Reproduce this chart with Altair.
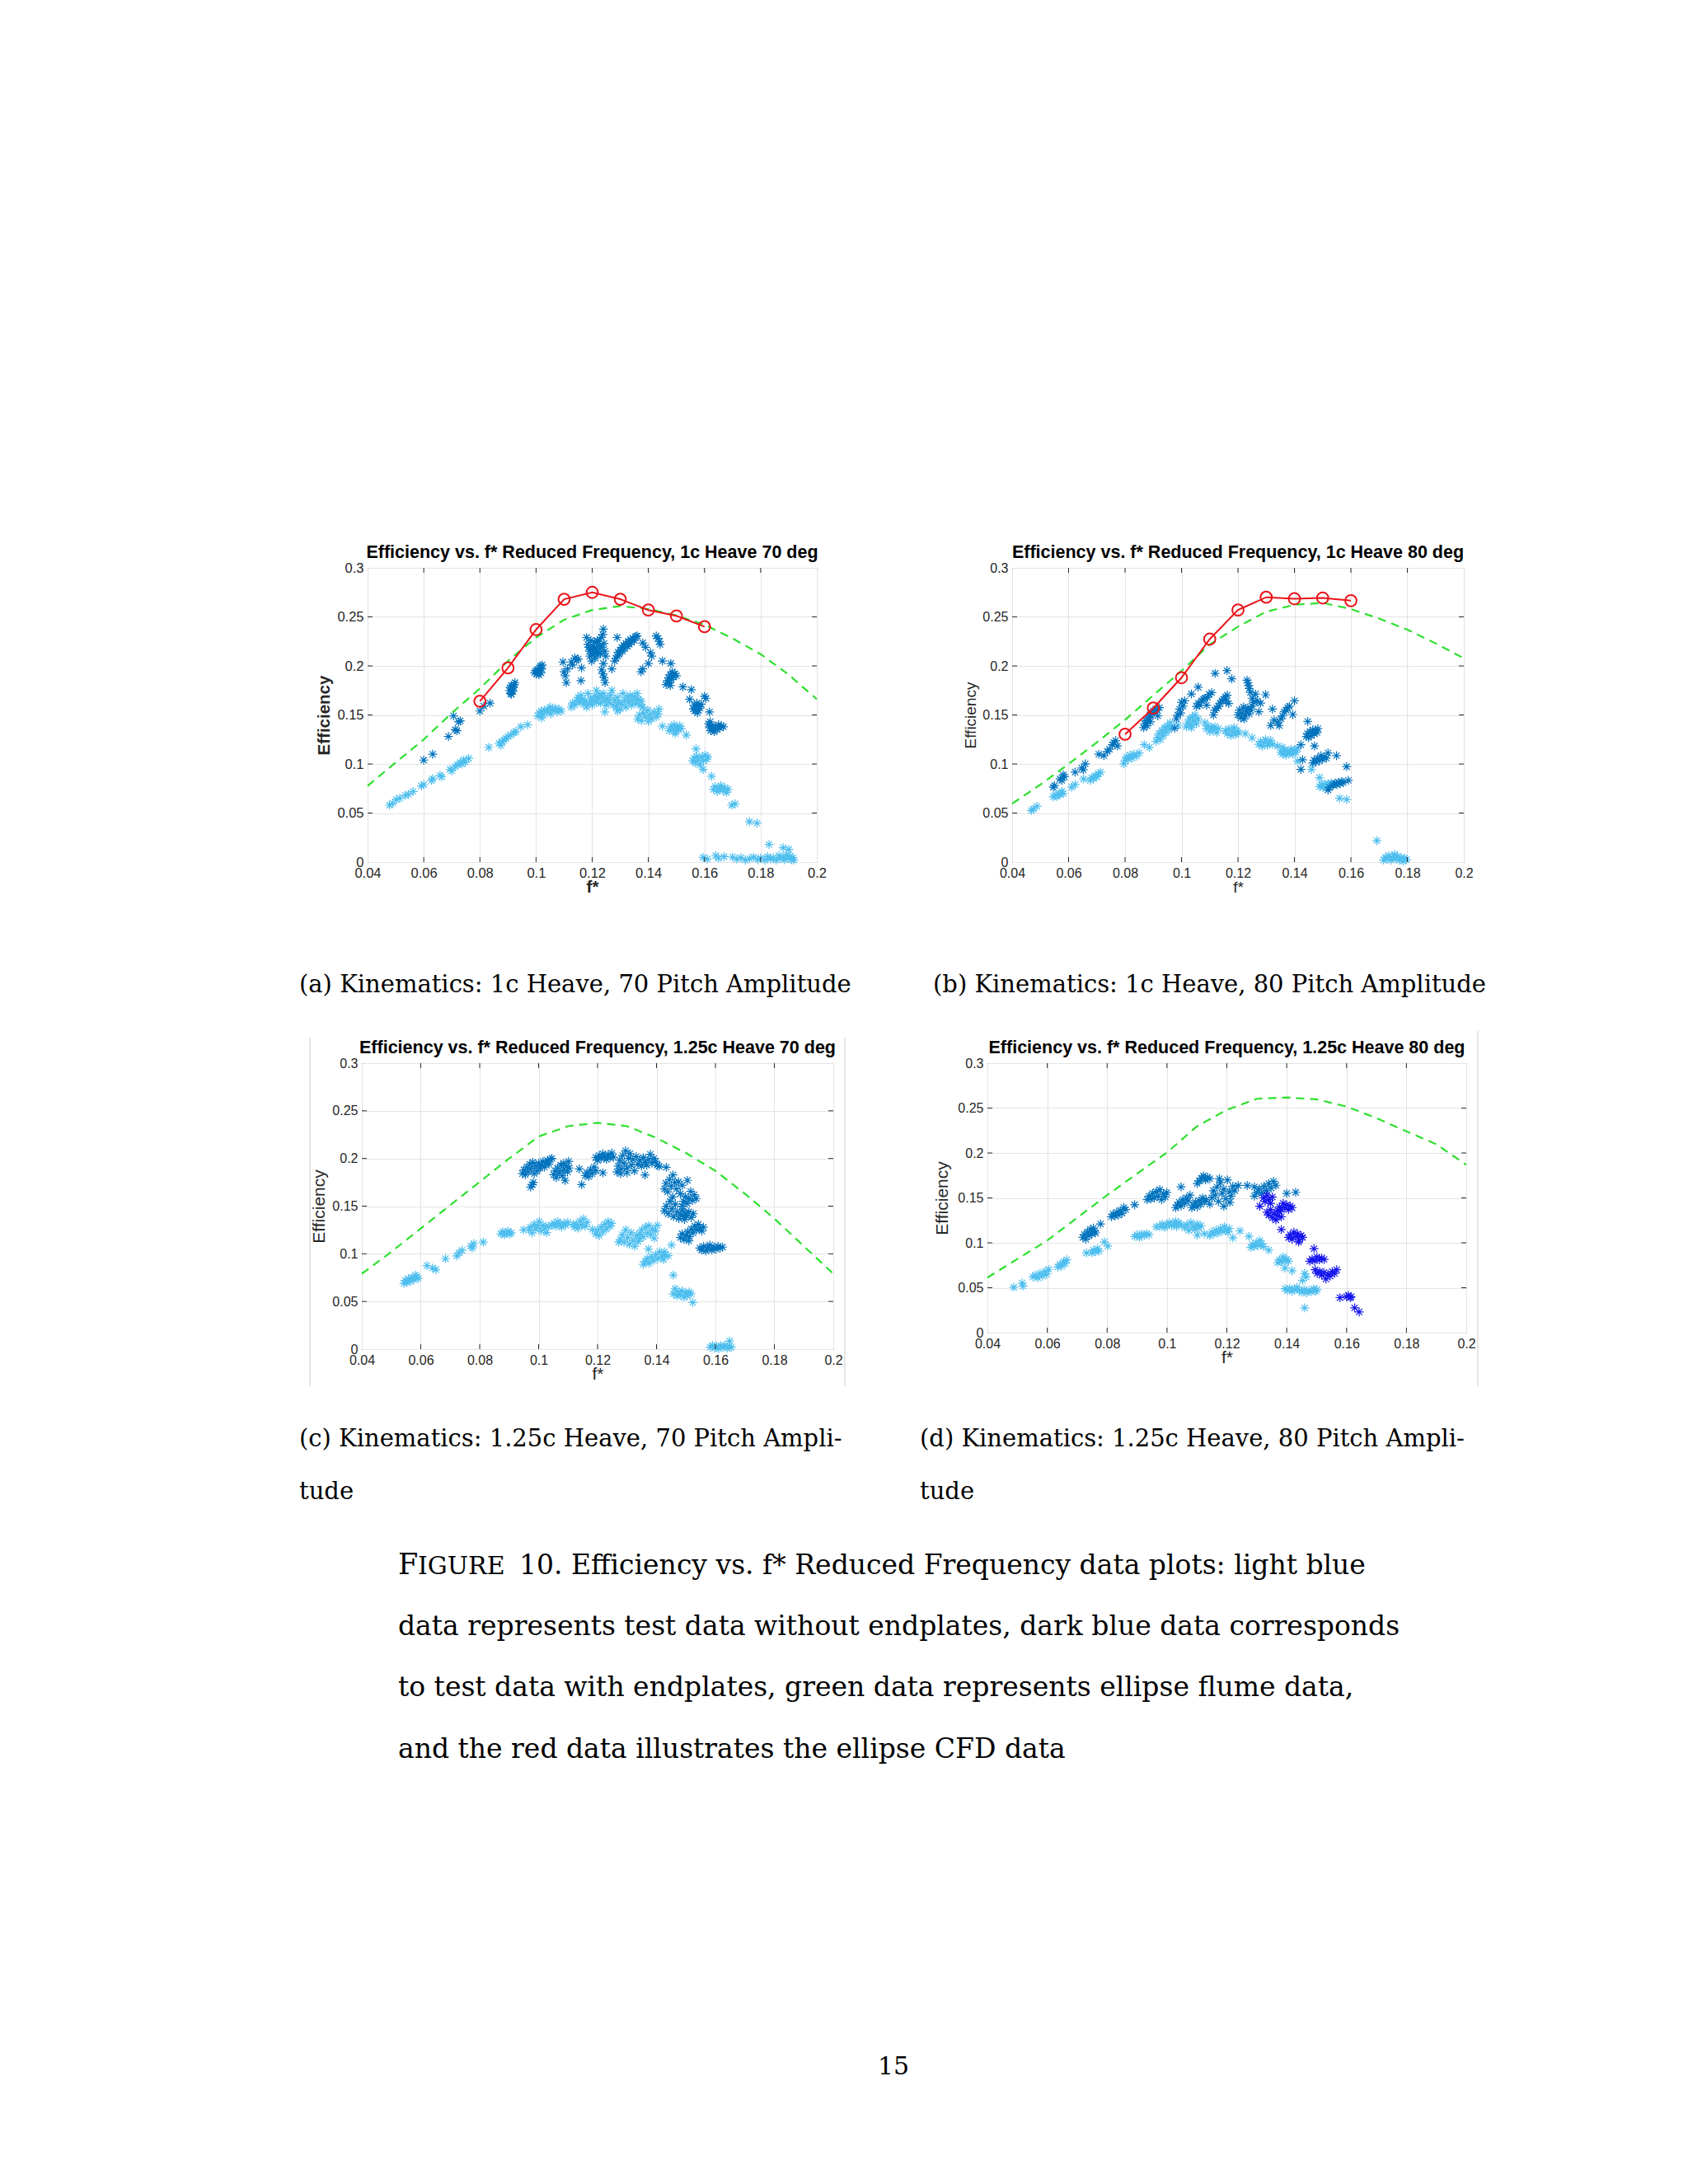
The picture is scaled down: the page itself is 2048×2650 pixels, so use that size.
import altair as alt
import pandas as pd

# ---------------- data ----------------
XT = [0.04, 0.06, 0.08, 0.10, 0.12, 0.14, 0.16, 0.18, 0.20]
YT = [0.0, 0.05, 0.10, 0.15, 0.20, 0.25, 0.30]
GREEN_F = [0.04, 0.05, 0.06, 0.07, 0.08, 0.09, 0.10, 0.11, 0.12, 0.13, 0.14, 0.15, 0.16, 0.17, 0.18, 0.19, 0.20]
RED_F = [0.08, 0.09, 0.10, 0.11, 0.12, 0.13, 0.14, 0.15, 0.16]

A_GREEN = [0.0777, 0.1015, 0.125, 0.152, 0.177, 0.205, 0.229, 0.247, 0.257, 0.261, 0.258, 0.2515, 0.242, 0.228, 0.212, 0.191, 0.166]
B_GREEN = [0.0596, 0.079, 0.100, 0.122, 0.145, 0.170, 0.195, 0.2218, 0.240, 0.2553, 0.2623, 0.2643, 0.258, 0.2483, 0.237, 0.223, 0.2078]
C_GREEN = [0.0791, 0.102, 0.1266, 0.151, 0.1755, 0.200, 0.223, 0.2339, 0.2374, 0.2339, 0.2215, 0.2057, 0.187, 0.163, 0.137, 0.108, 0.0791]
D_GREEN = [0.0612, 0.082, 0.1026, 0.128, 0.1531, 0.177, 0.2006, 0.2297, 0.248, 0.2603, 0.2618, 0.2597, 0.2517, 0.2388, 0.2241, 0.2097, 0.1868]

A_RED = [0.164, 0.198, 0.237, 0.268, 0.275, 0.268, 0.257, 0.251, 0.240]
B_RED = [0.1303, 0.157, 0.188, 0.2273, 0.257, 0.270, 0.2685, 0.2693, 0.2665]

A_DARK = [
    (0.0600, 0.104), (0.0632, 0.110), (0.0688, 0.128), (0.0706, 0.149), (0.0712, 0.135), (0.0718, 0.134),
    (0.0724, 0.143), (0.0730, 0.144), (0.0800, 0.154), (0.0814, 0.159), (0.0836, 0.162),
    (0.0905, 0.175), (0.0908, 0.178), (0.0910, 0.172), (0.0912, 0.180), (0.0915, 0.176), (0.0918, 0.174),
    (0.0920, 0.178), (0.0922, 0.181), (0.0925, 0.183), (0.0912, 0.171), (0.0917, 0.179),
    (0.0995, 0.193), (0.0998, 0.195), (0.1002, 0.192), (0.1005, 0.196), (0.1008, 0.194), (0.1012, 0.198),
    (0.1016, 0.200), (0.1020, 0.197), (0.1018, 0.193), (0.1010, 0.191), (0.1022, 0.201),
    (0.1096, 0.204), (0.1100, 0.194), (0.1104, 0.190), (0.1108, 0.183), (0.1112, 0.197), (0.1126, 0.204),
    (0.1130, 0.201), (0.1138, 0.208), (0.1145, 0.206), (0.1150, 0.207), (0.1162, 0.198), (0.1160, 0.185),
    (0.1180, 0.229), (0.1185, 0.222), (0.1190, 0.215), (0.1192, 0.210), (0.1195, 0.218), (0.1198, 0.205),
    (0.1200, 0.212), (0.1203, 0.220), (0.1205, 0.216), (0.1208, 0.224), (0.1210, 0.208), (0.1212, 0.214),
    (0.1215, 0.219), (0.1218, 0.226), (0.1220, 0.211), (0.1222, 0.225), (0.1225, 0.217), (0.1228, 0.221),
    (0.1230, 0.213), (0.1232, 0.229), (0.1235, 0.219), (0.1238, 0.232), (0.1240, 0.2375), (0.1242, 0.223),
    (0.1245, 0.215), (0.1248, 0.210), (0.1240, 0.2025), (0.1234, 0.196), (0.1238, 0.192), (0.1242, 0.188),
    (0.1246, 0.183), (0.1195, 0.226), (0.1188, 0.219), (0.1270, 0.197),
    (0.1280, 0.205), (0.1285, 0.208), (0.1290, 0.210), (0.1292, 0.214), (0.1296, 0.212), (0.1300, 0.216),
    (0.1305, 0.219), (0.1308, 0.215), (0.1312, 0.221), (0.1316, 0.218), (0.1320, 0.223), (0.1325, 0.220),
    (0.1328, 0.225), (0.1332, 0.222), (0.1336, 0.227), (0.1340, 0.224), (0.1345, 0.228), (0.1350, 0.226),
    (0.1355, 0.230), (0.1289, 0.229),
    (0.1360, 0.2305), (0.1380, 0.2235), (0.1390, 0.219), (0.1408, 0.2135), (0.1412, 0.210), (0.1400, 0.2025),
    (0.1374, 0.194), (0.1380, 0.197), (0.1428, 0.2305), (0.1435, 0.228), (0.1439, 0.225), (0.1442, 0.222),
    (0.1450, 0.205), (0.1480, 0.2025),
    (0.1463, 0.181), (0.1468, 0.185), (0.1472, 0.188), (0.1475, 0.183), (0.1478, 0.191), (0.1482, 0.186),
    (0.1485, 0.194), (0.1490, 0.189), (0.1495, 0.192), (0.1500, 0.190), (0.1478, 0.180),
    (0.1523, 0.1786), (0.1553, 0.1758), (0.1547, 0.166),
    (0.1560, 0.156), (0.1563, 0.160), (0.1566, 0.154), (0.1570, 0.158), (0.1573, 0.162), (0.1576, 0.155),
    (0.1580, 0.159), (0.1584, 0.157), (0.1588, 0.161), (0.1575, 0.152),
    (0.1600, 0.169), (0.1605, 0.167), (0.1618, 0.153),
    (0.1615, 0.141), (0.1618, 0.137), (0.1622, 0.134), (0.1626, 0.139), (0.1630, 0.136), (0.1635, 0.133),
    (0.1640, 0.138), (0.1645, 0.135), (0.1650, 0.140), (0.1655, 0.137), (0.1660, 0.139), (0.1667, 0.138),
    (0.1620, 0.143),
]

A_LIGHT = [
    (0.0478, 0.058), (0.0490, 0.060), (0.0502, 0.0637), (0.0515, 0.065), (0.0534, 0.068), (0.0545, 0.069),
    (0.0562, 0.072), (0.0592, 0.0777), (0.0600, 0.079), (0.0628, 0.0833), (0.0632, 0.085), (0.0658, 0.0883),
    (0.0664, 0.087), (0.0694, 0.0945), (0.0700, 0.093), (0.0712, 0.0973), (0.0720, 0.099), (0.0730, 0.1015),
    (0.0735, 0.100), (0.0742, 0.104), (0.0748, 0.102), (0.0760, 0.1057), (0.0832, 0.117), (0.0868, 0.121),
    (0.0875, 0.119), (0.0880, 0.123), (0.0886, 0.1245), (0.0893, 0.126), (0.0900, 0.128), (0.0910, 0.1295),
    (0.0922, 0.132), (0.0928, 0.133), (0.0946, 0.138), (0.0970, 0.140),
    (0.1006, 0.149), (0.1012, 0.152), (0.1018, 0.154), (0.1025, 0.150), (0.1030, 0.155), (0.1038, 0.153),
    (0.1045, 0.156), (0.1052, 0.151), (0.1060, 0.155), (0.1068, 0.157), (0.1075, 0.153), (0.1082, 0.156),
    (0.1090, 0.154), (0.1020, 0.147), (0.1050, 0.158),
    (0.1125, 0.158), (0.1130, 0.162), (0.1138, 0.160), (0.1145, 0.165), (0.1150, 0.168), (0.1155, 0.163),
    (0.1160, 0.170), (0.1165, 0.166), (0.1170, 0.161), (0.1175, 0.164), (0.1180, 0.158), (0.1185, 0.172),
    (0.1190, 0.162), (0.1195, 0.167), (0.1200, 0.160), (0.1205, 0.165), (0.1210, 0.169), (0.1215, 0.163),
    (0.1220, 0.167), (0.1225, 0.171), (0.1230, 0.162), (0.1235, 0.168), (0.1240, 0.172), (0.1245, 0.165),
    (0.1250, 0.160), (0.1255, 0.167), (0.1260, 0.163), (0.1265, 0.170), (0.1270, 0.175), (0.1275, 0.160),
    (0.1280, 0.165), (0.1285, 0.158), (0.1290, 0.168), (0.1295, 0.163), (0.1300, 0.156), (0.1305, 0.161),
    (0.1310, 0.172), (0.1315, 0.165), (0.1320, 0.158), (0.1325, 0.168), (0.1330, 0.163), (0.1335, 0.170),
    (0.1340, 0.160), (0.1345, 0.165), (0.1350, 0.169), (0.1355, 0.162), (0.1360, 0.172), (0.1365, 0.166),
    (0.1370, 0.160), (0.1375, 0.164), (0.1380, 0.158), (0.1245, 0.153), (0.1215, 0.175), (0.1290, 0.154),
    (0.1362, 0.146), (0.1368, 0.150), (0.1375, 0.144), (0.1382, 0.152), (0.1390, 0.148), (0.1398, 0.155),
    (0.1405, 0.150), (0.1412, 0.146), (0.1420, 0.153), (0.1428, 0.148), (0.1435, 0.151), (0.1438, 0.156),
    (0.1400, 0.1435), (0.1450, 0.1385),
    (0.1475, 0.134), (0.1480, 0.138), (0.1486, 0.136), (0.1492, 0.140), (0.1498, 0.133), (0.1503, 0.137),
    (0.1508, 0.135), (0.1512, 0.139), (0.1517, 0.136), (0.1495, 0.131), (0.1535, 0.1296), (0.1570, 0.1155),
    (0.1558, 0.103), (0.1563, 0.106), (0.1568, 0.101), (0.1573, 0.108), (0.1578, 0.104), (0.1584, 0.099),
    (0.1590, 0.107), (0.1596, 0.103), (0.1602, 0.109), (0.1608, 0.105), (0.1612, 0.107),
    (0.1595, 0.0945), (0.1625, 0.0875),
    (0.1632, 0.074), (0.1638, 0.077), (0.1645, 0.072), (0.1652, 0.075), (0.1658, 0.078), (0.1665, 0.073),
    (0.1672, 0.076), (0.1678, 0.071), (0.1684, 0.074),
    (0.1697, 0.058), (0.1709, 0.0594), (0.1760, 0.0412), (0.1787, 0.0398), (0.1830, 0.018), (0.1880, 0.0146),
    (0.1900, 0.013),
    (0.1595, 0.0048), (0.1610, 0.003), (0.1640, 0.0065), (0.1650, 0.004), (0.1670, 0.0055), (0.1700, 0.005),
    (0.1715, 0.003), (0.1730, 0.0045), (0.1745, 0.002), (0.1760, 0.0035), (0.1775, 0.005), (0.1790, 0.0025),
    (0.1800, 0.004), (0.1815, 0.002), (0.1825, 0.0055), (0.1835, 0.003), (0.1845, 0.0045), (0.1855, 0.002),
    (0.1865, 0.0065), (0.1870, 0.0035), (0.1880, 0.005), (0.1885, 0.0025), (0.1892, 0.0075), (0.1898, 0.004),
    (0.1905, 0.006), (0.1910, 0.0025), (0.1915, 0.0045), (0.1918, 0.002),
]

B_DARK = [
    (0.0546, 0.0763), (0.0550, 0.078), (0.0570, 0.0847), (0.0576, 0.0833), (0.0581, 0.0889), (0.0585, 0.087),
    (0.0623, 0.0917), (0.0647, 0.0959), (0.0652, 0.094), (0.0659, 0.1001), (0.0707, 0.110), (0.0725, 0.1085),
    (0.0737, 0.1127), (0.0745, 0.115), (0.0755, 0.1197), (0.0767, 0.1239), (0.0773, 0.1183), (0.0760, 0.122),
    (0.0866, 0.137), (0.0870, 0.141), (0.0875, 0.144), (0.0880, 0.1448), (0.0884, 0.147), (0.0888, 0.150),
    (0.0892, 0.150), (0.0896, 0.152), (0.0900, 0.154), (0.0904, 0.153), (0.0908, 0.156), (0.0912, 0.155),
    (0.0916, 0.149), (0.0922, 0.1574), (0.0878, 0.139), (0.0890, 0.143),
    (0.0976, 0.1365), (0.0982, 0.146), (0.0986, 0.150), (0.0993, 0.156), (0.0997, 0.152), (0.1000, 0.163),
    (0.1005, 0.159), (0.1011, 0.1644), (0.1035, 0.1714), (0.1059, 0.1784),
    (0.1053, 0.1588), (0.1060, 0.162), (0.1065, 0.160), (0.1071, 0.1644), (0.1078, 0.166), (0.1083, 0.1672),
    (0.1089, 0.160), (0.1092, 0.168), (0.1098, 0.171),
    (0.1107, 0.1728), (0.1113, 0.150), (0.1119, 0.1924), (0.1118, 0.155), (0.1125, 0.157), (0.1131, 0.1588),
    (0.1137, 0.162), (0.1143, 0.1644), (0.1149, 0.166), (0.1155, 0.1686), (0.1161, 0.1952), (0.1167, 0.1616),
    (0.1162, 0.170), (0.1178, 0.1868), (0.1158, 0.164),
    (0.1200, 0.150), (0.1205, 0.155), (0.1210, 0.147), (0.1215, 0.152), (0.1220, 0.158), (0.1225, 0.149),
    (0.1230, 0.154), (0.1235, 0.157), (0.1240, 0.151), (0.1245, 0.155), (0.1250, 0.159), (0.1222, 0.146),
    (0.1232, 0.1854), (0.1238, 0.180), (0.1244, 0.173), (0.1250, 0.167), (0.1256, 0.163), (0.1262, 0.1714),
    (0.1268, 0.1644), (0.1274, 0.1532), (0.1280, 0.162), (0.1240, 0.177), (0.1235, 0.183),
    (0.1298, 0.1706), (0.1322, 0.156), (0.1328, 0.1448), (0.1316, 0.1393), (0.1346, 0.1393), (0.1340, 0.142),
    (0.1352, 0.146), (0.1358, 0.149), (0.1364, 0.1532), (0.1370, 0.155), (0.1376, 0.1574), (0.1382, 0.1588),
    (0.1394, 0.1504), (0.1400, 0.1644),
    (0.1423, 0.1197), (0.1423, 0.0945), (0.1429, 0.1043), (0.1447, 0.1434),
    (0.1442, 0.128), (0.1446, 0.131), (0.1450, 0.127), (0.1455, 0.133), (0.1460, 0.129), (0.1465, 0.135),
    (0.1470, 0.131), (0.1475, 0.134), (0.1480, 0.132), (0.1483, 0.136), (0.1471, 0.1183),
    (0.1465, 0.101), (0.1470, 0.104), (0.1476, 0.102), (0.1482, 0.106), (0.1488, 0.103), (0.1494, 0.1085),
    (0.1500, 0.105), (0.1506, 0.107), (0.1513, 0.106),
    (0.1519, 0.1113), (0.1549, 0.1085), (0.1519, 0.0735), (0.1525, 0.076),
    (0.1537, 0.0785), (0.1543, 0.080), (0.1550, 0.079), (0.1556, 0.0815), (0.1562, 0.080), (0.1568, 0.082),
    (0.1573, 0.081), (0.1585, 0.0973), (0.1591, 0.0833),
]

B_LIGHT = [
    (0.0468, 0.0526), (0.0475, 0.054), (0.0488, 0.0568), (0.0546, 0.0665), (0.0552, 0.068), (0.0558, 0.067),
    (0.0565, 0.069), (0.0570, 0.0693), (0.0576, 0.0721), (0.0581, 0.070), (0.0611, 0.0763), (0.0623, 0.0791),
    (0.0653, 0.0847), (0.0677, 0.0833), (0.0682, 0.086), (0.0688, 0.085), (0.0695, 0.088), (0.0700, 0.087),
    (0.0706, 0.090), (0.0713, 0.0917),
    (0.0796, 0.1001), (0.0800, 0.104), (0.0805, 0.107), (0.0812, 0.105), (0.0818, 0.109), (0.0825, 0.106),
    (0.0832, 0.110), (0.0840, 0.108), (0.0850, 0.1113), (0.0868, 0.1197), (0.0886, 0.1169),
    (0.0910, 0.123), (0.0915, 0.127), (0.0920, 0.131), (0.0925, 0.125), (0.0930, 0.134), (0.0935, 0.129),
    (0.0940, 0.137), (0.0945, 0.132), (0.0950, 0.139), (0.0955, 0.135), (0.0960, 0.142), (0.0964, 0.138),
    (0.0988, 0.1393),
    (0.1017, 0.138), (0.1022, 0.142), (0.1028, 0.146), (0.1033, 0.140), (0.1038, 0.148), (0.1043, 0.144),
    (0.1048, 0.150), (0.1053, 0.141), (0.1059, 0.146), (0.1035, 0.137),
    (0.1083, 0.142), (0.1088, 0.136), (0.1094, 0.139), (0.1100, 0.133), (0.1106, 0.137), (0.1112, 0.135),
    (0.1118, 0.138), (0.1124, 0.132), (0.1131, 0.136),
    (0.1155, 0.134), (0.1162, 0.131), (0.1168, 0.136), (0.1175, 0.129), (0.1180, 0.133), (0.1186, 0.137),
    (0.1192, 0.130), (0.1197, 0.134), (0.1202, 0.132), (0.1226, 0.1309), (0.1250, 0.1267),
    (0.1274, 0.120), (0.1280, 0.123), (0.1286, 0.118), (0.1292, 0.122), (0.1298, 0.125), (0.1304, 0.119),
    (0.1310, 0.121), (0.1316, 0.124), (0.1322, 0.120), (0.1340, 0.1183), (0.1358, 0.1169),
    (0.1352, 0.112), (0.1358, 0.110), (0.1364, 0.114), (0.1370, 0.109), (0.1376, 0.113), (0.1382, 0.111),
    (0.1388, 0.115), (0.1394, 0.110), (0.1400, 0.114), (0.1405, 0.112), (0.1411, 0.116),
    (0.1411, 0.1029), (0.1460, 0.0945), (0.1489, 0.0861),
    (0.1489, 0.077), (0.1495, 0.079), (0.1501, 0.076), (0.1507, 0.0795), (0.1513, 0.0775), (0.1519, 0.080),
    (0.1525, 0.078), (0.1531, 0.0805), (0.1537, 0.079),
    (0.1560, 0.0651), (0.1585, 0.0637), (0.1692, 0.0218),
    (0.1716, 0.002), (0.1722, 0.005), (0.1728, 0.003), (0.1735, 0.0065), (0.1742, 0.002), (0.1748, 0.0045),
    (0.1755, 0.0078), (0.1760, 0.003), (0.1766, 0.006), (0.1772, 0.002), (0.1778, 0.0045), (0.1785, 0.001),
    (0.1790, 0.004), (0.1797, 0.0025),
]

C_DARK = [
    (0.0945, 0.184), (0.0950, 0.188), (0.0955, 0.183), (0.0960, 0.191), (0.0965, 0.186), (0.0970, 0.194),
    (0.0975, 0.189), (0.0980, 0.196), (0.0985, 0.184), (0.0990, 0.192), (0.0995, 0.187), (0.1000, 0.195),
    (0.1005, 0.190), (0.1010, 0.193), (0.1015, 0.197), (0.1020, 0.191), (0.1025, 0.195), (0.1030, 0.198),
    (0.1035, 0.194), (0.1040, 0.199), (0.1045, 0.200), (0.0979, 0.1726), (0.0973, 0.170), (0.0982, 0.175),
    (0.1051, 0.183), (0.1056, 0.187), (0.1060, 0.180), (0.1065, 0.190), (0.1070, 0.185), (0.1075, 0.193),
    (0.1080, 0.182), (0.1085, 0.188), (0.1090, 0.177), (0.1094, 0.192), (0.1098, 0.186), (0.1102, 0.197),
    (0.1104, 0.190), (0.1085, 0.195), (0.1138, 0.189), (0.1146, 0.1726),
    (0.1158, 0.182), (0.1164, 0.185), (0.1170, 0.181), (0.1176, 0.188), (0.1182, 0.184), (0.1188, 0.191),
    (0.1194, 0.187), (0.1218, 0.185),
    (0.1194, 0.201), (0.1200, 0.198), (0.1206, 0.203), (0.1212, 0.200), (0.1218, 0.205), (0.1224, 0.202),
    (0.1230, 0.199), (0.1236, 0.204), (0.1242, 0.201), (0.1248, 0.2057), (0.1254, 0.2014),
    (0.1266, 0.186), (0.1270, 0.192), (0.1275, 0.198), (0.1280, 0.189), (0.1285, 0.203), (0.1290, 0.195),
    (0.1295, 0.208), (0.1300, 0.190), (0.1305, 0.200), (0.1310, 0.205), (0.1315, 0.193), (0.1320, 0.199),
    (0.1325, 0.187), (0.1331, 0.202), (0.1278, 0.184), (0.1300, 0.185), (0.1361, 0.1827),
    (0.1337, 0.194), (0.1343, 0.198), (0.1349, 0.192), (0.1355, 0.201), (0.1361, 0.196), (0.1367, 0.193),
    (0.1373, 0.199), (0.1379, 0.2043), (0.1385, 0.195), (0.1391, 0.200), (0.1397, 0.197), (0.1403, 0.193),
    (0.1409, 0.1919), (0.1433, 0.1907),
    (0.1427, 0.168), (0.1432, 0.174), (0.1438, 0.165), (0.1444, 0.178), (0.1450, 0.171), (0.1456, 0.1827),
    (0.1462, 0.175), (0.1468, 0.168), (0.1475, 0.1755), (0.1481, 0.163), (0.1487, 0.172),
    (0.1427, 0.145), (0.1433, 0.150), (0.1440, 0.142), (0.1446, 0.155), (0.1452, 0.147), (0.1458, 0.139),
    (0.1464, 0.152), (0.1470, 0.144), (0.1476, 0.137), (0.1482, 0.141), (0.1488, 0.146), (0.1494, 0.139),
    (0.1499, 0.143), (0.1455, 0.1597), (0.1505, 0.177),
    (0.1487, 0.150), (0.1492, 0.155), (0.1498, 0.160), (0.1504, 0.153), (0.1510, 0.158), (0.1516, 0.1654),
    (0.1522, 0.156), (0.1528, 0.162), (0.1535, 0.158),
    (0.1495, 0.136), (0.1502, 0.140), (0.1510, 0.144), (0.1518, 0.138), (0.1525, 0.142),
    (0.1481, 0.117), (0.1487, 0.121), (0.1493, 0.115), (0.1500, 0.119), (0.1506, 0.123), (0.1512, 0.118),
    (0.1518, 0.126), (0.1524, 0.122), (0.1530, 0.129), (0.1536, 0.125), (0.1542, 0.131), (0.1548, 0.127),
    (0.1554, 0.124), (0.1559, 0.128), (0.1510, 0.1136),
    (0.1547, 0.106), (0.1553, 0.104), (0.1560, 0.108), (0.1567, 0.103), (0.1574, 0.106), (0.1581, 0.1093),
    (0.1588, 0.104), (0.1595, 0.107), (0.1602, 0.105), (0.1609, 0.108), (0.1616, 0.106), (0.1624, 0.107),
]

C_LIGHT = [
    (0.0543, 0.069), (0.0548, 0.072), (0.0553, 0.070), (0.0558, 0.074), (0.0564, 0.071), (0.0570, 0.075),
    (0.0576, 0.073), (0.0582, 0.0777), (0.0587, 0.076), (0.0591, 0.074),
    (0.0621, 0.0877), (0.0640, 0.085), (0.0651, 0.0834), (0.0684, 0.0949), (0.0722, 0.0978), (0.0730, 0.101),
    (0.0740, 0.1036), (0.0770, 0.1079), (0.0775, 0.106), (0.0780, 0.1108), (0.0812, 0.1122),
    (0.0872, 0.121), (0.0878, 0.123), (0.0884, 0.120), (0.0890, 0.122), (0.0896, 0.1237), (0.0902, 0.121),
    (0.0907, 0.122), (0.0949, 0.1251),
    (0.0967, 0.125), (0.0972, 0.128), (0.0978, 0.122), (0.0985, 0.131), (0.0990, 0.126), (0.0996, 0.129),
    (0.1002, 0.1338), (0.1008, 0.124), (0.1015, 0.130), (0.1020, 0.127), (0.1027, 0.1223), (0.1033, 0.129),
    (0.1045, 0.130), (0.1052, 0.132), (0.1058, 0.129), (0.1065, 0.1338), (0.1072, 0.131), (0.1078, 0.128),
    (0.1085, 0.132), (0.1092, 0.130), (0.1099, 0.133), (0.1117, 0.1309),
    (0.1122, 0.128), (0.1128, 0.131), (0.1134, 0.127), (0.1140, 0.134), (0.1146, 0.130), (0.1152, 0.1367),
    (0.1158, 0.129), (0.1164, 0.133), (0.1182, 0.1257),
    (0.1194, 0.121), (0.1200, 0.125), (0.1206, 0.119), (0.1212, 0.128), (0.1218, 0.123), (0.1224, 0.131),
    (0.1230, 0.126), (0.1236, 0.1338), (0.1242, 0.129), (0.1248, 0.132), (0.1272, 0.1122),
    (0.1278, 0.115), (0.1284, 0.120), (0.1290, 0.112), (0.1296, 0.1251), (0.1302, 0.117), (0.1308, 0.110),
    (0.1314, 0.122), (0.1320, 0.114), (0.1326, 0.1079), (0.1332, 0.119), (0.1338, 0.113), (0.1343, 0.116),
    (0.1343, 0.121), (0.1350, 0.125), (0.1356, 0.118), (0.1362, 0.128), (0.1368, 0.122), (0.1374, 0.1295),
    (0.1380, 0.120), (0.1386, 0.126), (0.1392, 0.1165), (0.1397, 0.124), (0.1403, 0.130), (0.1373, 0.105),
    (0.1355, 0.089), (0.1362, 0.092), (0.1368, 0.095), (0.1375, 0.090), (0.1382, 0.097), (0.1390, 0.093),
    (0.1397, 0.099), (0.1404, 0.095), (0.1411, 0.1021), (0.1418, 0.097), (0.1424, 0.094), (0.1427, 0.099),
    (0.1427, 0.1021), (0.1451, 0.1093), (0.1440, 0.098), (0.1457, 0.0777),
    (0.1457, 0.058), (0.1463, 0.0633), (0.1469, 0.056), (0.1475, 0.060), (0.1481, 0.057), (0.1487, 0.061),
    (0.1493, 0.0547), (0.1499, 0.059), (0.1505, 0.056), (0.1511, 0.060), (0.1517, 0.058), (0.1523, 0.0489),
    (0.1582, 0.002), (0.1590, 0.004), (0.1597, 0.001), (0.1604, 0.003), (0.1611, 0.0005), (0.1618, 0.0035),
    (0.1625, 0.002), (0.1632, 0.004), (0.1640, 0.001), (0.1647, 0.003), (0.1654, 0.002), (0.1648, 0.0086),
]

D_DARK = [
    (0.0719, 0.106), (0.0724, 0.109), (0.0729, 0.104), (0.0734, 0.112), (0.0739, 0.108), (0.0744, 0.115),
    (0.0749, 0.110), (0.0754, 0.1164), (0.0758, 0.113), (0.0761, 0.111), (0.0778, 0.121),
    (0.0814, 0.129), (0.0820, 0.132), (0.0826, 0.130), (0.0832, 0.134), (0.0838, 0.131), (0.0844, 0.136),
    (0.0850, 0.133), (0.0856, 0.1393), (0.0862, 0.137), (0.0892, 0.1424),
    (0.0934, 0.148), (0.0940, 0.152), (0.0946, 0.149), (0.0952, 0.155), (0.0958, 0.150), (0.0964, 0.157),
    (0.0970, 0.152), (0.0976, 0.1592), (0.0982, 0.148), (0.0988, 0.154), (0.0994, 0.151), (0.0999, 0.156),
    (0.1029, 0.139), (0.1035, 0.142), (0.1041, 0.145), (0.1047, 0.141), (0.1053, 0.148), (0.1059, 0.144),
    (0.1065, 0.150), (0.1071, 0.147), (0.1077, 0.1531), (0.1047, 0.1623),
    (0.1083, 0.139), (0.1089, 0.142), (0.1095, 0.145), (0.1101, 0.140), (0.1107, 0.147), (0.1113, 0.143),
    (0.1119, 0.150), (0.1125, 0.146), (0.1131, 0.148),
    (0.1101, 0.166), (0.1108, 0.169), (0.1115, 0.172), (0.1122, 0.1745), (0.1129, 0.170), (0.1136, 0.173),
    (0.1143, 0.1715),
    (0.1143, 0.143), (0.1150, 0.150), (0.1155, 0.158), (0.1161, 0.1531), (0.1167, 0.162), (0.1172, 0.146),
    (0.1178, 0.167), (0.1184, 0.155), (0.1190, 0.160), (0.1196, 0.149), (0.1202, 0.170), (0.1208, 0.157),
    (0.1214, 0.152), (0.1220, 0.163), (0.1226, 0.158), (0.1190, 0.1408), (0.1210, 0.145), (0.1175, 0.1715),
    (0.1238, 0.1638), (0.1268, 0.1638), (0.1292, 0.1623),
    (0.1292, 0.152), (0.1300, 0.156), (0.1308, 0.160), (0.1316, 0.155), (0.1324, 0.163), (0.1332, 0.158),
    (0.1340, 0.166), (0.1348, 0.161), (0.1356, 0.1684), (0.1364, 0.164), (0.1400, 0.155), (0.1430, 0.1562),
]

D_BLUE = [
    (0.1310, 0.1408), (0.1322, 0.150), (0.1328, 0.146), (0.1334, 0.153), (0.1340, 0.148), (0.1346, 0.144),
    (0.1352, 0.151),
    (0.1334, 0.134), (0.1340, 0.131), (0.1346, 0.137), (0.1352, 0.128), (0.1358, 0.133), (0.1364, 0.1255),
    (0.1370, 0.130), (0.1376, 0.135), (0.1382, 0.129), (0.1382, 0.1148),
    (0.1370, 0.136), (0.1376, 0.140), (0.1382, 0.137), (0.1388, 0.1439), (0.1394, 0.139), (0.1400, 0.142),
    (0.1406, 0.137), (0.1412, 0.141), (0.1418, 0.139),
    (0.1406, 0.106), (0.1412, 0.109), (0.1418, 0.104), (0.1424, 0.1118), (0.1430, 0.107), (0.1436, 0.110),
    (0.1442, 0.103), (0.1448, 0.108), (0.1453, 0.106), (0.1440, 0.101), (0.1491, 0.0934),
    (0.1477, 0.0795), (0.1485, 0.082), (0.1493, 0.080), (0.1501, 0.0842), (0.1509, 0.081), (0.1517, 0.083),
    (0.1525, 0.0815),
    (0.1495, 0.070), (0.1502, 0.066), (0.1510, 0.068), (0.1517, 0.064), (0.1524, 0.067), (0.1531, 0.0597),
    (0.1538, 0.065), (0.1545, 0.063), (0.1552, 0.068), (0.1560, 0.066), (0.1567, 0.070),
    (0.1578, 0.039), (0.1600, 0.040), (0.1606, 0.0413), (0.1612, 0.039), (0.1615, 0.040),
    (0.1627, 0.0276), (0.1642, 0.023),
]

D_LIGHT = [
    (0.0488, 0.0505), (0.0516, 0.0551), (0.0519, 0.052),
    (0.0552, 0.062), (0.0560, 0.064), (0.0568, 0.061), (0.0576, 0.066), (0.0584, 0.063), (0.0592, 0.068),
    (0.0598, 0.065), (0.0605, 0.0704),
    (0.0635, 0.073), (0.0642, 0.076), (0.0648, 0.074), (0.0655, 0.079), (0.0660, 0.077), (0.0665, 0.0811),
    (0.0731, 0.0888), (0.0749, 0.089), (0.0755, 0.092), (0.0762, 0.090), (0.0768, 0.0934), (0.0773, 0.091),
    (0.0791, 0.101), (0.0802, 0.0965),
    (0.0892, 0.107), (0.0900, 0.109), (0.0908, 0.106), (0.0916, 0.110), (0.0924, 0.108), (0.0932, 0.1102),
    (0.0940, 0.109), (0.0964, 0.1179),
    (0.0976, 0.118), (0.0984, 0.121), (0.0992, 0.117), (0.1000, 0.120), (0.1008, 0.1225), (0.1016, 0.119),
    (0.1024, 0.121), (0.1032, 0.118), (0.1040, 0.122), (0.1047, 0.120), (0.1029, 0.124),
    (0.1059, 0.117), (0.1066, 0.120), (0.1073, 0.114), (0.1080, 0.1225), (0.1087, 0.118), (0.1094, 0.115),
    (0.1101, 0.121), (0.1107, 0.117), (0.1113, 0.119), (0.1101, 0.1087), (0.1125, 0.1102),
    (0.1143, 0.108), (0.1150, 0.112), (0.1157, 0.110), (0.1164, 0.114), (0.1171, 0.111), (0.1178, 0.116),
    (0.1185, 0.113), (0.1192, 0.1179), (0.1199, 0.114), (0.1204, 0.112), (0.1208, 0.116),
    (0.1220, 0.1056), (0.1244, 0.1133), (0.1274, 0.1072),
    (0.1280, 0.095), (0.1286, 0.098), (0.1292, 0.096), (0.1298, 0.100), (0.1304, 0.097), (0.1310, 0.1026),
    (0.1316, 0.099), (0.1322, 0.096), (0.1340, 0.0919),
    (0.1370, 0.078), (0.1376, 0.081), (0.1382, 0.079), (0.1388, 0.0842), (0.1394, 0.080), (0.1400, 0.082),
    (0.1406, 0.0795), (0.1394, 0.072), (0.1418, 0.0689), (0.1460, 0.0658), (0.1453, 0.0582), (0.1465, 0.062),
    (0.1394, 0.049), (0.1402, 0.047), (0.1410, 0.0495), (0.1418, 0.046), (0.1426, 0.048), (0.1434, 0.0505),
    (0.1442, 0.047), (0.1450, 0.045), (0.1458, 0.048), (0.1466, 0.0444), (0.1474, 0.047), (0.1482, 0.0455),
    (0.1490, 0.049), (0.1497, 0.046), (0.1501, 0.048), (0.1460, 0.0276),
]

TITLES = [
    "Efficiency vs. f* Reduced Frequency, 1c Heave 70 deg",
    "Efficiency vs. f* Reduced Frequency, 1c Heave 80 deg",
    "Efficiency vs. f* Reduced Frequency, 1.25c Heave 70 deg",
    "Efficiency vs. f* Reduced Frequency, 1.25c Heave 80 deg",
]
SUBCAPTIONS = [
    "(a) Kinematics: 1c Heave, 70 Pitch Amplitude",
    "(b) Kinematics: 1c Heave, 80 Pitch Amplitude",
    "(c) Kinematics: 1.25c Heave, 70 Pitch Ampli-",
    "(d) Kinematics: 1.25c Heave, 80 Pitch Ampli-",
    "tude",
]
FIG_LINE1 = "10. Efficiency vs. f* Reduced Frequency data plots: light blue"
FIG_LINES = [
    "data represents test data without endplates, dark blue data corresponds",
    "to test data with endplates, green data represents ellipse flume data,",
    "and the red data illustrates the ellipse CFD data",
]
PAGE_NO = "15"

# ---------------- style ----------------
LIGHT = "#4dbeee"
DARK = "#0072bd"
BLUE = "#1414ee"
GREEN = "#2ee02e"
RED = "#ea1419"
FRAME = "#2b2b2b"
GRID = "#e4e4e4"
LBL = "#262626"
SANS = "Liberation Sans"
SERIF = "DejaVu Serif"
AST = "M-1,0L1,0M0,-1L0,1M-0.7,-0.7L0.7,0.7M-0.7,0.7L0.7,-0.7"
ONE = pd.DataFrame({"v": [0]})


def panel(title, light, dark, green, w, h, red=None, blue=None, bold=False,
          lab=16, ytsize=20, ytx=-53, xtsize=20):
    weight = "bold" if bold else "normal"
    X = alt.X("f:Q", scale=alt.Scale(domain=[0.04, 0.2], nice=False, zero=False),
              axis=alt.Axis(values=XT, format=".2~f", grid=True, gridColor=GRID, gridWidth=1,
                            ticks=False, domain=False, labelFont=SANS, labelFontSize=lab,
                            labelColor=LBL, labelPadding=5, labelFlush=False, labelOverlap=False,
                            title="f*", titleFont=SANS, titleFontSize=xtsize, titleFontWeight=weight,
                            titleColor=LBL, titleY=30, titleBaseline="middle"))
    Y = alt.Y("e:Q", scale=alt.Scale(domain=[0, 0.3], nice=False, zero=False),
              axis=alt.Axis(values=YT, format=".2~f", grid=True, gridColor=GRID, gridWidth=1,
                            ticks=False, domain=False, labelFont=SANS, labelFontSize=lab,
                            labelColor=LBL, labelPadding=5, labelFlush=False, labelOverlap=False,
                            title="Efficiency", titleFont=SANS, titleFontSize=ytsize,
                            titleFontWeight=weight, titleColor=LBL, titleX=ytx,
                            titleBaseline="middle"))

    def pts(data, color):
        df = pd.DataFrame(data, columns=["f", "e"])
        return alt.Chart(df).mark_point(shape=AST, filled=False, size=115, strokeWidth=1.2,
                                         color=color, opacity=1).encode(x=X, y=Y)

    layers = [pts(light, LIGHT), pts(dark, DARK)]
    if blue is not None:
        layers.append(pts(blue, BLUE))
    gdf = pd.DataFrame({"f": GREEN_F, "e": green})
    layers.append(alt.Chart(gdf).mark_line(color=GREEN, strokeDash=[10, 7], strokeWidth=2.2)
                  .encode(x=X, y=Y))
    if red is not None:
        rdf = pd.DataFrame({"f": RED_F, "e": red})
        layers.append(alt.Chart(rdf).mark_line(color=RED, strokeWidth=2).encode(x=X, y=Y))
        layers.append(alt.Chart(rdf).mark_point(shape="circle", filled=False, size=190,
                                                strokeWidth=2, color=RED, opacity=1)
                      .encode(x=X, y=Y))
    # inward ticks on all four sides of the box
    dy = 0.3 * 6 / h
    dx = 0.16 * 6 / w
    rows = []
    for t in XT[1:-1]:
        rows.append({"f": t, "f2": t, "e": 0.0, "e2": dy})
        rows.append({"f": t, "f2": t, "e": 0.3, "e2": 0.3 - dy})
    for t in YT[1:-1]:
        rows.append({"f": 0.04, "f2": 0.04 + dx, "e": t, "e2": t})
        rows.append({"f": 0.2, "f2": 0.2 - dx, "e": t, "e2": t})
    tdf = pd.DataFrame(rows)
    layers.append(alt.Chart(tdf).mark_rule(color=FRAME, strokeWidth=1)
                  .encode(x=X, x2="f2:Q", y=Y, y2="e2:Q"))
    return alt.layer(*layers).properties(
        width=w, height=h,
        title=alt.Title(text=title, font=SANS, fontSize=21.5, fontWeight="bold", color="black",
                        anchor="middle", frame="group", offset=7, dy=24, baseline="alphabetic"),
        view=alt.ViewBackground(stroke=FRAME, strokeWidth=1),
    )


def spacer(w, h):
    return alt.Chart(ONE).mark_rule(opacity=0, strokeWidth=0).encode(
        x=alt.value(0), y=alt.value(0), y2=alt.value(0)).properties(width=w, height=h)


def txt(s, x, y, size=29, align="left", font=SERIF):
    # x, y are page positions; the page chart starts at (8, 8)
    return alt.Chart(ONE).mark_text(text=s, align=align, baseline="alphabetic", font=font,
                                    fontSize=size, color="black").encode(
        x=alt.value(x - 8), y=alt.value(y - 8))


def vline(x, y1, y2):
    return alt.Chart(ONE).mark_rule(color="#dcdcdc", strokeWidth=1.5).encode(
        x=alt.value(x - 8), y=alt.value(y1 - 8), y2=alt.value(y2 - 8))


page = alt.layer(
    txt(SUBCAPTIONS[0], 362, 1203),
    txt(SUBCAPTIONS[1], 1131, 1203),
    txt(SUBCAPTIONS[2], 362, 1754),
    txt(SUBCAPTIONS[4], 362, 1818),
    txt(SUBCAPTIONS[3], 1115, 1754),
    txt(SUBCAPTIONS[4], 1115, 1818),
    txt("F", 482, 1909, size=35),
    txt("IGURE", 506, 1909, size=30),
    txt(FIG_LINE1, 629, 1909, size=33),
    txt(FIG_LINES[0], 482, 1983, size=33),
    txt(FIG_LINES[1], 482, 2057, size=33),
    txt(FIG_LINES[2], 482, 2132, size=33),
    txt(PAGE_NO, 1083, 2516, size=30, align="center"),
    vline(375, 1258, 1681),
    vline(1024, 1258, 1681),
    vline(1792, 1250, 1681),
).properties(width=1, height=1)

A = panel(TITLES[0], A_LIGHT, A_DARK, A_GREEN, 545, 357, red=A_RED, bold=True,
          lab=16.5, ytsize=20.5, ytx=-53, xtsize=20.5)
B = panel(TITLES[1], B_LIGHT, B_DARK, B_GREEN, 548, 357, red=B_RED, lab=16, ytsize=19, ytx=-51,
          xtsize=19)
C = panel(TITLES[2], C_LIGHT, C_DARK, C_GREEN, 572, 347, lab=16, ytsize=21, ytx=-52, xtsize=21)
D = panel(TITLES[3], D_LIGHT, D_DARK, D_GREEN, 581, 327, blue=D_BLUE, lab=16, ytsize=21, ytx=-55,
          xtsize=21)

# page x = 8 + 1 (page cell) + spacer widths; page y = 8 + spacer height
row_top = alt.vconcat(
    spacer(1, 680),
    alt.hconcat(spacer(436, 1), A, spacer(237, 1), B, spacing=0, bounds="flush"),
    spacing=0, bounds="flush",
)
row_bottom = alt.vconcat(
    spacer(1, 1281),
    alt.hconcat(spacer(429, 1), C, spacer(187, 1), D, spacing=0, bounds="flush"),
    spacing=0, bounds="flush",
)

chart = alt.hconcat(page, row_top, row_bottom, spacing=0, bounds="flush").properties(
    padding=0).configure_view(stroke="transparent")

chart.save("out.html", embed_options={"renderer": "svg", "actions": False})
